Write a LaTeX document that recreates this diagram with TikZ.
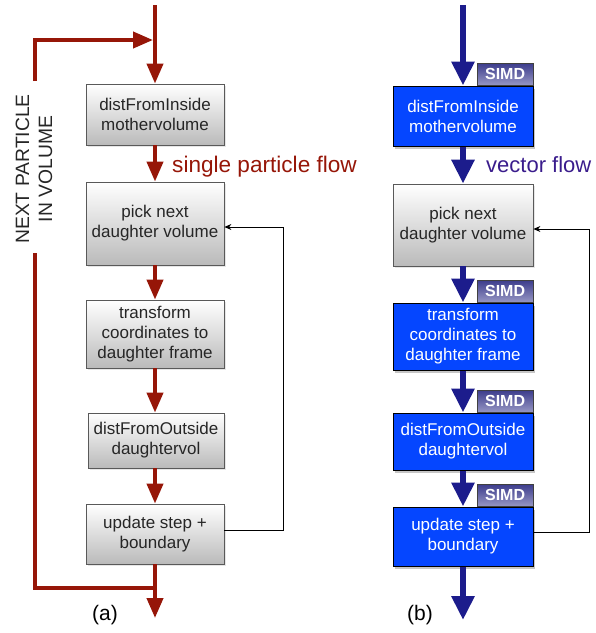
\documentclass[tikz,border=0pt]{standalone}
\usepackage{fontspec}
\setmainfont{Liberation Sans}
\usetikzlibrary{arrows.meta,shadows}
\definecolor{rflow}{RGB}{150,22,8}
\definecolor{vflow}{RGB}{28,28,140}
\definecolor{vtext}{RGB}{58,28,140}
\definecolor{vblue}{RGB}{5,70,255}
\definecolor{simdtop}{RGB}{60,60,140}
\definecolor{simdbot}{RGB}{150,150,195}
\begin{document}
\begin{tikzpicture}[x=1pt,y=-1pt,
  boxfont/.style={font=\fontsize{17}{20}\selectfont},
  graybox/.style={boxfont, draw=black!65, line width=0.8pt, top color=white, bottom color=black!27,
    minimum width=138pt, align=center, text=black!85, inner sep=0pt,
    drop shadow={shadow xshift=1.5pt, shadow yshift=-2pt, opacity=0.2}},
  bluebox/.style={boxfont, draw=black, line width=1pt, fill=vblue,
    drop shadow={shadow xshift=2pt, shadow yshift=-3pt, opacity=0.45},
    minimum width=140pt, align=center, text=white, inner sep=0pt},
  simdtab/.style={draw=black!75, line width=0.8pt, top color=simdtop, bottom color=simdbot,
    minimum width=56pt, minimum height=22pt, font=\bfseries\fontsize{16}{16}\selectfont,
    text=white, inner sep=0pt, anchor=south east},
  redline/.style={draw=rflow, line width=4pt},
  redarrow/.style={redline, -{Triangle[length=20pt,width=16pt]}},
  bluearrow/.style={draw=vflow, line width=6pt, -{Triangle[length=24pt,width=22pt]}},
  fb/.style={draw=black, line width=0.8pt, -{Stealth[length=7pt,width=6pt]}},
  flowlabel/.style={font=\fontsize{22.6}{26}\selectfont, anchor=base west, inner sep=0pt},
  sublabel/.style={font=\fontsize{21}{24}\selectfont}
]
\useasboundingbox (0,0) rectangle (596,633);

% ---------- (a) single particle flow ----------
\node[graybox, minimum height=61pt] (a1) at (155,114.5) {distFromInside\\mothervolume};
\node[graybox, minimum height=83pt] (a2) at (155,223.5) {pick next\\daughter volume};
\node[graybox, minimum height=68pt] (a3) at (155,334) {transform\\coordinates to\\daughter frame};
\node[graybox, minimum height=55pt, minimum width=136pt] (a4) at (156,440.5) {distFromOutside\\daughtervol};
\node[graybox, minimum height=60pt] (a5) at (155,534) {update step +\\boundary};

\coordinate (atop) at (155,5);
\coordinate (aend) at (155,618);
\coordinate (ljoin) at (155,40);
\coordinate (lupper) at (35,81);
\coordinate (llower) at (35,253);
\coordinate (lbase) at (155,588);

\draw[redarrow] (atop) -- (a1.north);
\draw[redarrow] (a1.south) -- (a2.north);
\draw[redarrow] (a2.south) -- (a3.north);
\draw[redarrow] (a3.south) -- (a4.north -| a3.south);
\draw[redarrow] (a4.south -| a5.north) -- (a5.north);
\draw[redarrow] (a5.south) -- (aend);
\draw[redline] (llower) |- (lbase);
\draw[redarrow] (lupper) |- ([xshift=-2pt]ljoin);

\node[rotate=90, align=center, font=\fontsize{19.3}{23}\selectfont, text=black!85] (next) at (34,169) {NEXT PARTICLE\\IN VOLUME};
\node[flowlabel, text=rflow] (spf) at (172,172) {single particle flow};

\coordinate (fa1) at (283,530);
\coordinate (fa2) at (283,227);
\draw[fb] (a5.east |- fa1) -- (fa1) -- (fa2) -- (a2.east |- fa2);

\node[sublabel] (la) at (105,615) {(a)};

% ---------- (b) vector flow ----------
\node[bluebox, minimum height=60pt] (b1) at (463,116) {distFromInside\\mothervolume};
\node[graybox, minimum height=82pt, minimum width=140pt] (b2) at (463,225) {pick next\\daughter volume};
\node[bluebox, minimum height=67pt] (b3) at (463,336.5) {transform\\coordinates to\\daughter frame};
\node[bluebox, minimum height=57pt] (b4) at (463,441.5) {distFromOutside\\daughtervol};
\node[bluebox, minimum height=59pt] (b5) at (463,536.5) {update step +\\boundary};

\node[simdtab] (s1) at (b1.north east) {SIMD};
\node[simdtab] (s3) at (b3.north east) {SIMD};
\node[simdtab] (s4) at (b4.north east) {SIMD};
\node[simdtab] (s5) at (b5.north east) {SIMD};

\coordinate (btop) at (463,5);
\coordinate (bend) at (463,620);

\draw[bluearrow] (btop) -- (b1.north);
\draw[bluearrow] (b1.south) -- (b2.north);
\draw[bluearrow] (b2.south) -- (b3.north);
\draw[bluearrow] (b3.south) -- (b4.north);
\draw[bluearrow] (b4.south) -- (b5.north);
\draw[bluearrow] (b5.south) -- (bend);

\node[flowlabel, text=vtext, font=\fontsize{22}{26}\selectfont] (vf) at (486,172) {vector flow};

\coordinate (fb1) at (589,532);
\coordinate (fb2) at (589,229);
\draw[fb] (b5.east |- fb1) -- (fb1) -- (fb2) -- (b2.east |- fb2);

\node[sublabel] (lb) at (420,615) {(b)};
\end{tikzpicture}
\end{document}
